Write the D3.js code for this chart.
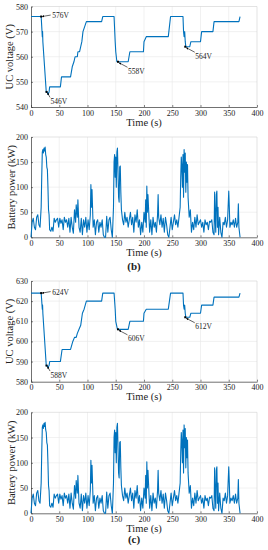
<!DOCTYPE html>
<html>
<head>
<meta charset="utf-8">
<script src="https://cdn.jsdelivr.net/npm/d3@7"></script>
<style>
body { margin: 0; background: #fff; }
svg text { font-family: "Liberation Serif", "DejaVu Serif", serif; fill: #222; }
</style>
</head>
<body>
<div id="chart-area"></div>
<script>
// voltage (b) - step like trace, [time, volts]
const voltTimeB = [0, 18, 19, 20, 20.5, 21, 27, 29, 30, 32, 33, 52, 54, 70, 73, 76, 78, 82, 83, 86, 88, 90, 92, 95, 98, 125, 127, 147, 149, 150, 152, 172, 175, 199, 200, 204, 243, 245, 247, 269, 270, 271, 272, 273, 274, 281, 283, 300, 302, 322, 324, 368, 370];
const voltB = [576, 576, 572, 568, 570, 566, 546, 546, 545, 546, 548, 548, 552, 552, 556, 558, 560, 560, 562, 562, 564, 566, 570, 572, 574, 574, 576, 576, 566, 562, 558, 558, 562, 562, 566, 568, 568, 572, 576, 576, 570, 568, 570, 566, 564, 564, 566, 566, 570, 570, 574, 574, 576];

// voltage (c)
const voltTimeC = [0, 18, 19, 20, 20.5, 21, 27, 29, 30, 32, 33, 52, 55, 70, 74, 77, 80, 82, 85, 88, 91, 94, 98, 125, 127, 147, 149, 150, 153, 172, 175, 199, 200, 204, 243, 245, 247, 269, 270, 271, 272, 273, 274, 281, 283, 300, 302, 322, 324, 368, 370];
const voltC = [624, 624, 620, 616, 618, 614, 588, 588, 587, 588, 590, 590, 596, 596, 600, 602, 602, 604, 606, 608, 614, 616, 620, 620, 624, 624, 616, 610, 606, 606, 610, 610, 614, 616, 616, 620, 624, 624, 618, 616, 618, 614, 612, 612, 614, 614, 618, 618, 622, 622, 624];

// battery power, same drive cycle for (b) and (c)
const powerTime = [0, 2, 4, 6, 8, 10, 12, 14, 16, 18, 19, 20, 21, 22, 23, 24, 25, 26, 27, 28, 29, 30, 31, 32, 33, 35, 37, 39, 41, 43, 45, 47, 49, 51, 53, 55, 57, 59, 61, 63, 65, 67, 69, 71, 73, 75, 77, 79, 80, 82, 83, 85, 87, 89, 91, 93, 95, 97, 99, 101, 103, 105, 106, 107, 108, 110, 112, 114, 116, 118, 120, 122, 124, 126, 128, 130, 132, 134, 136, 138, 140, 142, 144, 146, 147, 148, 149, 150, 151, 152, 153, 154, 155, 156, 157, 158, 159, 160, 162, 164, 166, 168, 170, 172, 174, 176, 178, 180, 182, 184, 186, 188, 190, 192, 194, 196, 198, 200, 202, 203, 204, 205, 206, 207, 208, 210, 212, 214, 216, 218, 220, 222, 224, 225, 226, 228, 230, 232, 234, 236, 238, 240, 242, 244, 246, 248, 250, 252, 254, 256, 258, 260, 262, 264, 265, 266, 267, 268, 269, 270, 271, 272, 273, 274, 275, 276, 277, 278, 279, 280, 282, 284, 286, 288, 290, 292, 294, 296, 298, 300, 302, 304, 306, 308, 310, 312, 314, 316, 318, 320, 322, 324, 325, 326, 327, 328, 329, 330, 331, 332, 334, 336, 338, 340, 342, 344, 346, 348, 350, 351, 352, 354, 356, 358, 360, 362, 364, 366, 367, 368, 369, 370];
const powerKW = [0, 30, 38, 20, 15, 40, 45, 25, 20, 60, 120, 170, 175, 168, 178, 172, 180, 165, 160, 140, 135, 100, 55, 45, 15, 12, 20, 12, 38, 30, 35, 38, 20, 38, 28, 35, 15, 40, 30, 35, 20, 38, 10, 40, 20, 8, 55, 30, 65, 40, 75, 20, 10, 38, 5, 35, 20, 40, 10, 35, 15, 45, 105, 60, 95, 20, 35, 5, 30, 35, 10, 30, 20, 35, 5, 0, 0, 42, 10, 35, 40, 15, 0, 60, 150, 165, 120, 160, 100, 170, 178, 130, 80, 70, 140, 142, 90, 55, 35, 25, 50, 30, 40, 20, 35, 50, 25, 40, 10, 45, 30, 55, 20, 35, 5, 30, 10, 50, 30, 75, 20, 102, 50, 85, 60, 10, 35, 5, 40, 20, 30, 10, 45, 85, 40, 25, 45, 20, 38, 10, 40, 25, 5, 0, 20, 40, 15, 30, 45, 25, 35, 20, 40, 60, 120, 160, 140, 100, 165, 80, 175, 130, 168, 90, 150, 110, 145, 80, 60, 40, 55, 10, 30, 15, 40, 20, 45, 25, 30, 35, 20, 30, 10, 35, 25, 30, 15, 32, 30, 35, 10, 5, 90, 40, 10, 85, 92, 20, 60, 5, 40, 10, 0, 30, 25, 40, 20, 35, 92, 60, 20, 30, 25, 35, 20, 38, 20, 30, 67, 20, 10, 0];

const timeTicks = [0, 50, 100, 150, 200, 250, 300, 350, 400];
const voltTicksB = [540, 550, 560, 570, 580];
const voltTicksC = [580, 590, 600, 610, 620, 630];
const powerTicks = [0, 50, 100, 150, 200];

// annotated points [time, volts, label]
const notesB = [[18, 576, "576V"], [27.5, 546, "546V"], [154, 558, "558V"], [273, 564, "564V"]];
const notesC = [[18, 624, "624V"], [27.5, 588, "588V"], [154, 606, "606V"], [273, 612, "612V"]];

const W = 268, H = 550;
const svg = d3.select("#chart-area").append("svg")
    .attr("width", W).attr("height", H);

const defs = svg.append("defs");
defs.append("marker").attr("id", "arr")
    .attr("viewBox", "0 0 10 10").attr("refX", 9).attr("refY", 5)
    .attr("markerWidth", 4).attr("markerHeight", 4).attr("orient", "auto")
    .append("path").attr("d", "M0,0L10,5L0,10z").attr("fill", "#000");

const left = 31, right = 257;

function panel(top, bottom, yDomain, yTicks, yLabel, xs, ys, notes, caption) {
    const x = d3.scaleLinear().domain([0, 400]).range([left, right]);
    const y = d3.scaleLinear().domain(yDomain).range([bottom, top]);
    const g = svg.append("g");

    // grid
    g.selectAll(".gx").data(timeTicks.slice(1, -1)).enter().append("line")
        .attr("x1", d => x(d)).attr("x2", d => x(d))
        .attr("y1", top).attr("y2", bottom)
        .attr("stroke", "#e8e8e8").attr("stroke-width", 0.6);
    g.selectAll(".gy").data(yTicks.slice(1, -1)).enter().append("line")
        .attr("x1", left).attr("x2", right)
        .attr("y1", d => y(d)).attr("y2", d => y(d))
        .attr("stroke", "#e8e8e8").attr("stroke-width", 0.6);

    // top/right box
    g.append("path")
        .attr("d", `M${left},${top}H${right}V${bottom}`)
        .attr("fill", "none").attr("stroke", "#d0d0d0").attr("stroke-width", 0.6);

    const xAxis = g.append("g").attr("transform", `translate(0,${bottom})`)
        .call(d3.axisBottom(x).tickValues(timeTicks).tickSizeInner(-2).tickSizeOuter(0).tickPadding(3));
    const yAxis = g.append("g").attr("transform", `translate(${left},0)`)
        .call(d3.axisLeft(y).tickValues(yTicks).tickSizeInner(-2).tickSizeOuter(0).tickPadding(3));
    [xAxis, yAxis].forEach(a => {
        a.select(".domain").attr("stroke", "#333").attr("stroke-width", 0.7);
        a.selectAll(".tick line").attr("stroke", "#333").attr("stroke-width", 0.6);
        a.selectAll(".tick text").attr("font-size", "8px")
            .attr("font-family", "Liberation Serif").attr("fill", "#222");
    });

    const line = d3.line().x(d => x(d[0])).y(d => y(d[1]));
    g.append("path").datum(xs.map((t, i) => [t, ys[i]]))
        .attr("d", line)
        .attr("fill", "none").attr("stroke", "#0072BD")
        .attr("stroke-width", 1.1).attr("stroke-linejoin", "round");

    g.append("text").attr("x", (left + right) / 2).attr("y", bottom + 18.5)
        .attr("text-anchor", "middle").attr("font-size", "10.5px").text("Time (s)");
    g.append("text")
        .attr("transform", `translate(${yLabel[1]},${(top + bottom) / 2}) rotate(-90)`)
        .attr("text-anchor", "middle").attr("font-size", yLabel[2]).text(yLabel[0]);

    if (notes) {
        notes.forEach((n, i) => {
            const px = x(n[0]), py = y(n[1]);
            const tx = i === 0 ? px + 11 : (i === 1 ? px + 4 : px + 10);
            const ty = i === 0 ? py + 1.5 : py + 12;
            g.append("rect").attr("x", px - 1).attr("y", py - 1)
                .attr("width", 2).attr("height", 2).attr("fill", "#000");
            const sx = i === 0 ? tx - 1.5 : tx - 0.5;
            const sy = i === 0 ? py - 1.5 : ty - 6.5;
            g.append("line").attr("x1", sx).attr("y1", sy)
                .attr("x2", px + 1).attr("y2", py + (i === 0 ? 0 : 1))
                .attr("stroke", "#000").attr("stroke-width", 0.6)
                .attr("marker-end", "url(#arr)");
            g.append("text").attr("x", tx).attr("y", ty)
                .attr("font-size", "7.5px").text(n[2]);
        });
    }

    if (caption) {
        g.append("text").attr("x", W / 2).attr("y", caption[1])
            .attr("text-anchor", "middle").attr("font-size", "11px")
            .attr("font-weight", "bold").text(caption[0]);
    }
}

panel(6.5, 107, [540, 580], voltTicksB, ["UC voltage (V)", 12.5, "10.5px"], voltTimeB, voltB, notesB, null);
panel(137, 237.3, [0, 200], powerTicks, ["Battery power (kW)", 14.5, "10.5px"], powerTime, powerKW, null, ["(b)", 270]);
panel(281, 381.7, [580, 630], voltTicksC, ["UC voltage (V)", 12.5, "10.5px"], voltTimeC, voltC, notesC, null);
panel(412.3, 513.3, [0, 200], powerTicks, ["Battery power (kW)", 14.5, "10.5px"], powerTime, powerKW, null, ["(c)", 543]);
</script>
</body>
</html>
